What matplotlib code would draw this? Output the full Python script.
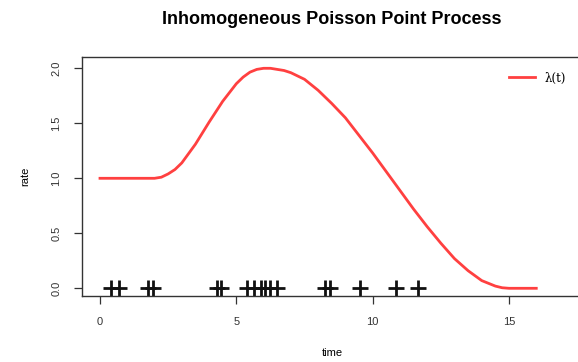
import matplotlib
matplotlib.use("Agg")
import matplotlib.pyplot as plt
from matplotlib.lines import Line2D

# Intensity curve
t_vals = [0, 0.5, 1.0, 1.5, 2.0, 2.25, 2.5, 2.75, 3.0, 3.5, 4.0, 4.5, 5.0,
          5.25, 5.5, 5.75, 6.0, 6.25, 6.5, 6.75, 7.0, 7.5, 8.0, 8.5, 9.0,
          9.5, 10.0, 10.5, 11.0, 11.5, 12.0, 12.5, 13.0, 13.5, 14.0, 14.5,
          14.75, 15.0, 15.5, 16.0]
rate_vals = [1.0, 1.0, 1.0, 1.0, 1.0, 1.01, 1.04, 1.08, 1.14, 1.31, 1.51,
             1.70, 1.86, 1.92, 1.965, 1.99, 2.0, 2.0, 1.99, 1.98, 1.96, 1.90,
             1.80, 1.68, 1.55, 1.39, 1.23, 1.06, 0.89, 0.72, 0.56, 0.41,
             0.27, 0.16, 0.07, 0.02, 0.005, 0.0, 0.0, 0.0]

# Event times (points of the process)
events = [0.42, 0.68, 1.75, 1.95, 4.30, 4.45, 5.40, 5.65, 5.90, 6.05, 6.25,
          6.50, 8.25, 8.45, 9.55, 10.85, 11.65]

x_ticks = [0, 5, 10, 15]
y_ticks = [0.0, 0.5, 1.0, 1.5, 2.0]
y_ticklabels = ["0.0", "0.5", "1.0", "1.5", "2.0"]

W, H = 578, 362
fig = plt.figure(figsize=(W / 100, H / 100), dpi=100)
plt.rcParams['font.family'] = ['Liberation Sans', 'DejaVu Sans']

left, right, top, bottom = 82, 582, 57, 296
ax = fig.add_axes([left / W, 1 - bottom / H, (right - left) / W, (bottom - top) / H])

# pixel scale: x 0->100px, 15->509px; y 0->288.3, 2->68.3
px_per_x = (509 - 100) / 15
px_per_y = (288.3 - 68.3) / 2
ax.set_xlim((left - 100) / px_per_x, (right - 100) / px_per_x)
ax.set_ylim(-(bottom - 288.3) / px_per_y, (288.3 - top) / px_per_y)

ax.plot(t_vals, rate_vals, color='#ff4040', lw=2, solid_joinstyle='round')
ax.plot(events, [0] * len(events), linestyle='none', marker='+',
        markersize=12, markeredgewidth=2.0, color='#111111', clip_on=False)

ax.set_xticks(x_ticks)
ax.set_xticklabels([str(v) for v in x_ticks], fontsize=8)
ax.set_yticks(y_ticks)
ax.set_yticklabels(y_ticklabels, fontsize=8, rotation=90, va='center')
ax.tick_params(direction='out', length=6, width=0.9, colors='#333333', pad=9)
for s in ax.spines.values():
    s.set_linewidth(1.0)
    s.set_color('#333333')

ax.set_xlabel('time', fontsize=8, labelpad=15)
ax.set_ylabel('rate', fontsize=8, labelpad=15)
fig.text(332 / W, 1 - 20 / H, 'Inhomogeneous Poisson Point Process',
         ha='center', va='center', fontsize=13, fontweight='bold')

handle = Line2D([], [], color='#ff4040', lw=2)
leg = ax.legend([handle], ['λ(t)'], frameon=False, loc='upper left',
                bbox_to_anchor=(498 / W, 1 - 61 / H), bbox_transform=fig.transFigure,
                prop={'family': 'DejaVu Serif', 'size': 8.5}, handlelength=2.2,
                handletextpad=0.8)

fig.savefig('out.png', dpi=100)
